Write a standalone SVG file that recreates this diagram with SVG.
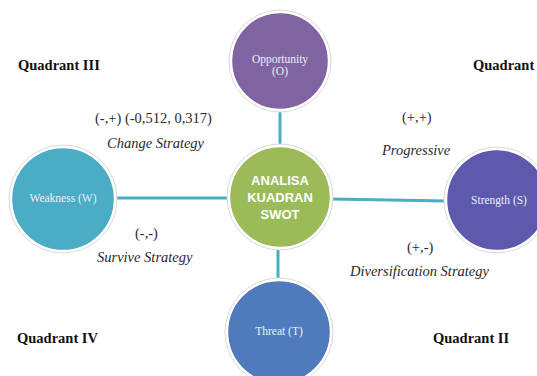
<svg xmlns="http://www.w3.org/2000/svg" width="537" height="376" viewBox="0 0 537 376">
<style>
.halo{fill:#ffffff;stroke:#d9d9d9;stroke-width:1}
.node{stroke:#ffffff;stroke-width:1.5}
.ntx{font-family:"Liberation Serif",serif;font-size:11.5px;fill:#eeeef4;text-anchor:middle}
.ctx{font-family:"Liberation Sans",Arial,sans-serif;font-weight:bold;font-size:13px;fill:#ffffff;text-anchor:middle}
.quad{font-family:"Liberation Serif",serif;font-weight:bold;font-size:14.5px;fill:#111111}
.lbl{font-family:"Liberation Serif",serif;font-size:14.5px;fill:#2a2a2a}
.it{font-family:"Liberation Serif",serif;font-style:italic;font-size:14.5px;fill:#2a2a2a}
.conn{stroke:#4BACC6;stroke-width:3;fill:none}
</style>
<rect width="537" height="376" fill="#ffffff"/>
<g id="connectors">
<line class="conn" x1="280" y1="110" x2="280" y2="147"/>
<line class="conn" x1="278" y1="247" x2="278" y2="281"/>
<line class="conn" x1="115" y1="198" x2="229" y2="198"/>
<line class="conn" x1="331" y1="199" x2="447" y2="201"/>
</g>
<g id="opportunity">
<circle class="halo" cx="280" cy="61" r="51"/>
<circle class="node" cx="280" cy="61" r="48.5" fill="#8064A2"/>
<text class="ntx" x="280" y="63">Opportunity</text>
<text class="ntx" x="280" y="75">(O)</text>
</g>
<g id="center">
<circle class="halo" cx="280" cy="197" r="53"/>
<circle class="node" cx="280" cy="197" r="50.5" fill="#9BBB59"/>
<text class="ctx" x="280" y="185">ANALISA</text>
<text class="ctx" x="280" y="202">KUADRAN</text>
<text class="ctx" x="280" y="219">SWOT</text>
</g>
<g id="weakness">
<circle class="halo" cx="63" cy="199" r="54"/>
<circle class="node" cx="63" cy="199" r="51.5" fill="#4BACC6"/>
<text class="ntx" x="63" y="202">Weakness (W)</text>
</g>
<g id="strength">
<circle class="halo" cx="497" cy="200" r="53"/>
<circle class="node" cx="497" cy="200" r="50.5" fill="#5F59AD"/>
<text class="ntx" x="499" y="204">Strength (S)</text>
</g>
<g id="threat">
<circle class="halo" cx="279" cy="332" r="54"/>
<circle class="node" cx="279" cy="332" r="51.5" fill="#4F7BBD"/>
<text class="ntx" x="279" y="335">Threat (T)</text>
</g>
<g id="labels">
<text class="quad" x="18" y="70">Quadrant III</text>
<text class="quad" x="473" y="70">Quadrant</text>
<text class="quad" x="17" y="343">Quadrant IV</text>
<text class="quad" x="433" y="343">Quadrant II</text>
<text class="lbl" x="95" y="123">(-,+) (-0,512, 0,317)</text>
<text class="it" x="107" y="148">Change Strategy</text>
<text class="lbl" x="402" y="122">(+,+)</text>
<text class="it" x="382" y="155">Progressive</text>
<text class="lbl" x="135" y="238">(-,-)</text>
<text class="it" x="97" y="262">Survive Strategy</text>
<text class="lbl" x="407" y="252">(+,-)</text>
<text class="it" x="350" y="276">Diversification Strategy</text>
</g>
</svg>
